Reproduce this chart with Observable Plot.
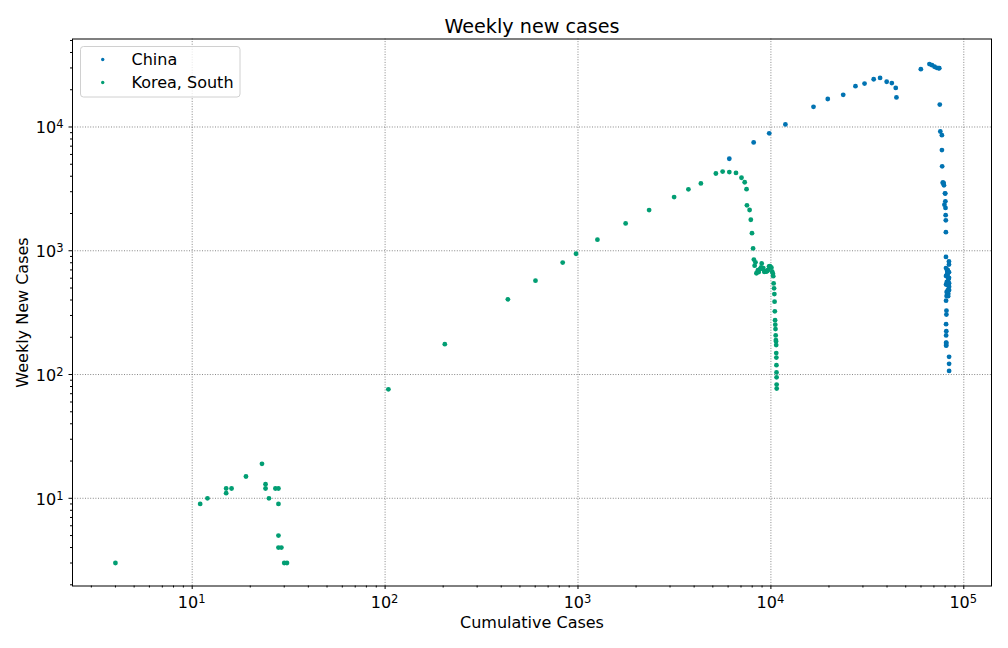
<!DOCTYPE html>
<html><head><meta charset="utf-8">
<script src="https://cdn.jsdelivr.net/npm/d3@7"></script>
<script src="https://cdn.jsdelivr.net/npm/@observablehq/plot@0.6"></script>
<style>
html,body{margin:0;padding:0;background:#fff;}
#chart{width:1008px;height:648px;}
</style></head><body><div id="chart"></div>
<script>
const seriesNames = ["China", "Korea, South"];
const seriesColors = ["#0173b2", "#029e73"];

const chinaCum = [6087,8141,9802,11891,16630,19716,23707,27440,30587,34110,36814,39829,42354,44386,44759,59895,66358,68413,70513,72434,74211,74619,75077,75550,77001,77022,77241,77754,78166,78600,78928,79356,79932,80136,80261,80386,80537,80690,80770,80823,80860,80887,80921,80932,80945,80977,81003,81033,81058,81102,81156,81250,81305,81435,81498,81591,81661,81782,81897,81999,82122,82198,82279,82361,82432,82511,82543,82602,82665,82718,82809,82883,82941,83014,83134,83213,83306,83356,83403,83760,83787,83805,83817,83853,83868,83884,83899,83909,83912];
const chinaWeekly = [5539,7498,8882,10485,14555,16839,18198,21353,22446,24308,24923,23199,22638,20679,17319,29308,32248,31599,30684,30080,29825,29860,15182,9192,8588,6509,4807,3543,3547,3523,3378,2355,2910,2895,2507,2220,1937,1762,1414,891,724,626,535,395,255,207,180,173,171,181,224,305,328,432,465,533,559,626,647,694,687,700,688,700,650,614,544,480,467,439,448,451,430,471,532,548,588,547,520,819,773,671,604,547,512,481,139,122,107];

const koreaCum = [4,11,12,15,15,16,19,23,24,24,25,27,28,28,28,28,29,30,31,104,204,433,602,833,977,1261,1766,2337,3150,3736,4335,5186,5621,6088,6593,7041,7314,7478,7513,7755,7869,7979,8086,8162,8236,8320,8413,8565,8652,8799,8897,8961,9037,9137,9241,9332,9478,9583,9661,9786,9887,9976,10062,10156,10237,10284,10331,10384,10423,10450,10480,10512,10537,10564,10591,10613,10635,10653,10661,10674,10683,10694,10702,10708,10718];
const koreaWeekly = [3,9,10,12,11,12,15,19,13,12,10,12,12,9,5,4,4,3,3,76,176,405,573,803,946,1230,1662,2133,2717,3134,3502,4209,4360,4322,4256,3891,3578,3143,2327,2134,1781,1386,1045,848,758,807,658,696,673,713,735,790,717,724,676,680,679,686,700,749,750,735,730,678,654,623,545,497,447,388,324,275,253,233,207,190,185,173,149,137,119,104,95,83,77];

const xMajor = [10, 100, 1000, 10000, 100000];
const yMajor = [10, 100, 1000, 10000];
const xDomain = [2.396, 139200];
const yDomain = [1.956, 51400];

function minors(dom) {
  const out = [];
  for (let e = 0; e <= 5; e++) for (let m = 2; m <= 9; m++) {
    const v = m * Math.pow(10, e);
    if (v >= dom[0] && v <= dom[1]) out.push(v);
  }
  return out;
}

const rows = [];
chinaCum.forEach((c, i) => rows.push({series: seriesNames[0], cum: c, weekly: chinaWeekly[i]}));
koreaCum.forEach((c, i) => rows.push({series: seriesNames[1], cum: c, weekly: koreaWeekly[i]}));

const gridStyle = {stroke: "#7a7a7a", strokeOpacity: 1, strokeWidth: 0.9, strokeDasharray: "1,1.6"};
const FONT = "DejaVu Sans, sans-serif";

const chart = Plot.plot({
  width: 1008,
  height: 648,
  marginLeft: 72,
  marginRight: 17,
  marginTop: 38.5,
  marginBottom: 62.5,
  style: {fontFamily: FONT, color: "black", background: "white", overflow: "visible"},
  x: {type: "log", domain: xDomain},
  y: {type: "log", domain: yDomain},
  color: {domain: seriesNames, range: seriesColors},
  marks: [
    Plot.gridX(xMajor, gridStyle),
    Plot.gridY(yMajor, gridStyle),
    Plot.axisX(minors(xDomain), {tickSize: 2, tickFormat: () => "", label: null}),
    Plot.axisY(minors(yDomain), {tickSize: 2, tickFormat: () => "", label: null}),
    Plot.axisX(xMajor, {tickSize: 3.5, tickFormat: () => "", label: null}),
    Plot.axisY(yMajor, {tickSize: 3.5, tickFormat: () => "", label: null}),
    Plot.dot(rows, {x: "cum", y: "weekly", fill: "series", r: 2.4, stroke: "none"}),
    Plot.frame({stroke: "black", strokeWidth: 1}),
    Plot.text(["Weekly new cases"], {frameAnchor: "top", textAnchor: "middle", dy: -12.5, fontSize: 19.2, lineAnchor: "middle"}),
    Plot.text(["Cumulative Cases"], {frameAnchor: "bottom", textAnchor: "middle", dy: 37, fontSize: 16, lineAnchor: "middle"}),
    Plot.text(["Weekly New Cases"], {frameAnchor: "left", textAnchor: "middle", dx: -50, rotate: -90, fontSize: 16, lineAnchor: "middle"})
  ]
});
document.getElementById("chart").appendChild(chart);

const svg = d3.select(chart);
const xs = chart.scale("x"), ys = chart.scale("y");
const exp = v => String(Math.round(Math.log10(v)));

// power-of-ten tick labels with real superscripts
const tl = svg.append("g").attr("font-family", FONT).attr("fill", "black");
xMajor.forEach(v => {
  const t = tl.append("text").attr("x", xs.apply(v)).attr("y", 608).attr("text-anchor", "middle").attr("font-size", 16);
  t.append("tspan").text("10");
  t.append("tspan").attr("dy", -5).attr("font-size", 11.5).text(exp(v));
});
yMajor.forEach(v => {
  const t = tl.append("text").attr("x", 63.5).attr("y", ys.apply(v) + 7).attr("text-anchor", "end").attr("font-size", 16);
  t.append("tspan").text("10");
  t.append("tspan").attr("dy", -5).attr("font-size", 11.5).text(exp(v));
});

// legend inside the axes (upper left)
const lg = svg.append("g").attr("font-family", FONT).attr("font-size", 16);
lg.append("rect").attr("x", 80.5).attr("y", 46.5).attr("width", 159.5).attr("height", 50.5)
  .attr("rx", 3).attr("fill", "white").attr("fill-opacity", 0.8).attr("stroke", "#d0d0d0");
seriesNames.forEach((name, i) => {
  const cy = 59.5 + i * 23;
  lg.append("circle").attr("cx", 102.7).attr("cy", cy).attr("r", 1.7).attr("fill", seriesColors[i]);
  lg.append("text").attr("x", 131.5).attr("y", cy).attr("dy", "0.35em").attr("text-anchor", "start").attr("fill", "black").text(name);
});
</script>
</body></html>
